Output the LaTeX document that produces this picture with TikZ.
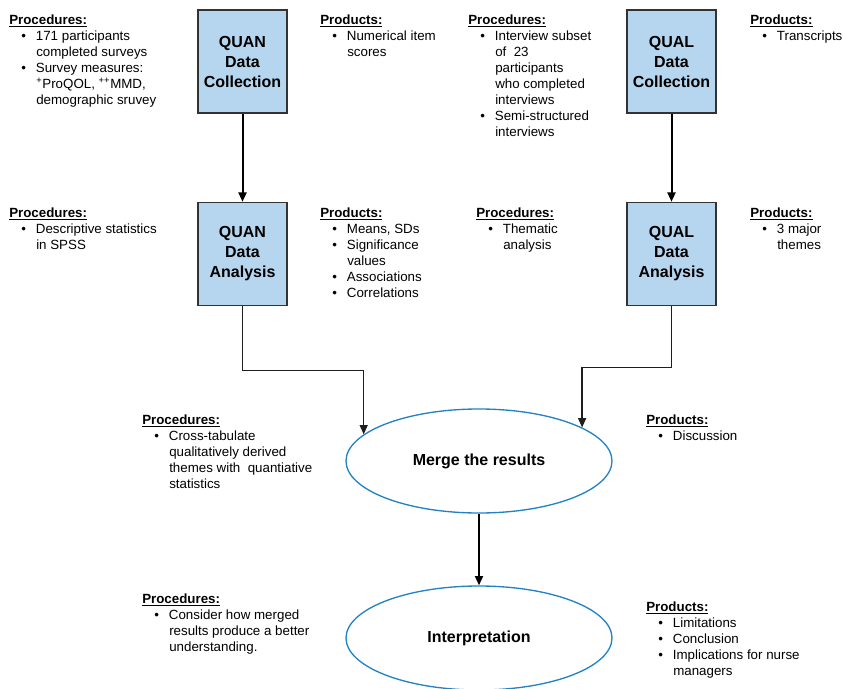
\documentclass[tikz,border=0pt]{standalone}
\usepackage{fontspec}
\setmainfont{Liberation Sans}
\definecolor{stageblue}{RGB}{181, 214, 238}
\definecolor{stageedge}{RGB}{51, 51, 51}
\definecolor{ovalblue}{RGB}{35, 130, 195}
\definecolor{flowgray}{RGB}{30, 30, 30}
\usetikzlibrary{shapes.geometric, arrows.meta, positioning, calc}
\newcommand{\head}[1]{\rule{0pt}{9pt}\underline{\textbf{#1}}}
\newcommand{\bitem}{\hspace*{9pt}\makebox[11pt][l]{\textbullet}}
\newcommand{\bcont}{\hspace*{20.25pt}}
\tikzset{
    stagebox/.style={draw=stageedge, fill=stageblue, rectangle, line width=1.1pt, minimum width=66.75pt, minimum height=77.25pt, inner sep=0pt, align=center, font=\fontsize{12}{15}\selectfont\bfseries},
    mergeoval/.style={draw=ovalblue, ellipse, line width=1pt, minimum width=199.5pt, minimum height=78pt, inner sep=0pt, font=\fontsize{12}{15}\selectfont\bfseries},
    notes/.style={anchor=north west, align=left, inner sep=0pt, font=\fontsize{10}{12}\selectfont},
    flowarrow/.style={-{Triangle[length=7pt, width=6pt]}, line width=1.5pt, draw=black},
    elbowarrow/.style={-{Triangle[length=7pt, width=6pt]}, line width=1pt, draw=flowgray},
}
\begin{document}
\begin{tikzpicture}[x=0.75pt, y=-0.75pt]
    \useasboundingbox (0,0) rectangle (843,689);
    % Stages
    \node[stagebox] (quanCol) at (242.5,61.5) {QUAN\\Data\\Collection};
    \node[stagebox] (qualCol) at (671.5,61.5) {QUAL\\Data\\Collection};
    \node[stagebox] (quanAna) at (242.5,254) {QUAN\\Data\\Analysis};
    \node[stagebox] (qualAna) at (671.5,254) {QUAL\\Data\\Analysis};
    \node[mergeoval] (merge) at (479,461) {Merge the results};
    \node[mergeoval] (interp) at (479,638) {Interpretation};

    % Procedures and products
    \node[notes] (procQuanCol) at (9,12) {\head{Procedures:}\\
        \bitem 171 participants\\ \bcont completed surveys\\
        \bitem Survey measures:\\ \bcont \textsuperscript{+}ProQOL, \textsuperscript{++}MMD,\\ \bcont demographic sruvey};
    \node[notes] (prodQuanCol) at (320,12) {\head{Products:}\\
        \bitem Numerical item\\ \bcont scores};
    \node[notes] (procQualCol) at (468,12) {\head{Procedures:}\\
        \bitem Interview subset\\ \bcont of\ \ 23\\ \bcont participants\\ \bcont who completed\\ \bcont interviews\\
        \bitem Semi-structured\\ \bcont interviews};
    \node[notes] (prodQualCol) at (750,12) {\head{Products:}\\
        \bitem Transcripts};

    \node[notes] (procQuanAna) at (9,205) {\head{Procedures:}\\
        \bitem Descriptive statistics\\ \bcont in SPSS};
    \node[notes] (prodQuanAna) at (320,205) {\head{Products:}\\
        \bitem Means, SDs\\
        \bitem Significance\\ \bcont values\\
        \bitem Associations\\
        \bitem Correlations};
    \node[notes] (procQualAna) at (476,205) {\head{Procedures:}\\
        \bitem Thematic\\ \bcont analysis};
    \node[notes] (prodQualAna) at (750,205) {\head{Products:}\\
        \bitem 3 major\\ \bcont themes};

    \node[notes] (procMerge) at (142,412) {\head{Procedures:}\\
        \bitem Cross-tabulate\\ \bcont qualitatively derived\\ \bcont themes with\ \ quantiative\\ \bcont statistics};
    \node[notes] (prodMerge) at (646,412) {\head{Products:}\\
        \bitem Discussion};

    \node[notes] (procInterp) at (142,591) {\head{Procedures:}\\
        \bitem Consider how merged\\ \bcont results produce a better\\ \bcont understanding.};
    \node[notes] (prodInterp) at (646,599) {\head{Products:}\\
        \bitem Limitations\\
        \bitem Conclusion\\
        \bitem Implications for nurse\\ \bcont managers};

    % Connectors
    \draw[flowarrow] (quanCol) -- (quanAna);
    \draw[flowarrow] (qualCol) -- (qualAna);
    \draw[elbowarrow] (quanAna.south) -- ++(0,64) -| (merge.167);
    \draw[elbowarrow] (qualAna.south) -- ++(0,61) -| (merge.18);
    \draw[flowarrow] (merge) -- (interp);
\end{tikzpicture}
\end{document}
